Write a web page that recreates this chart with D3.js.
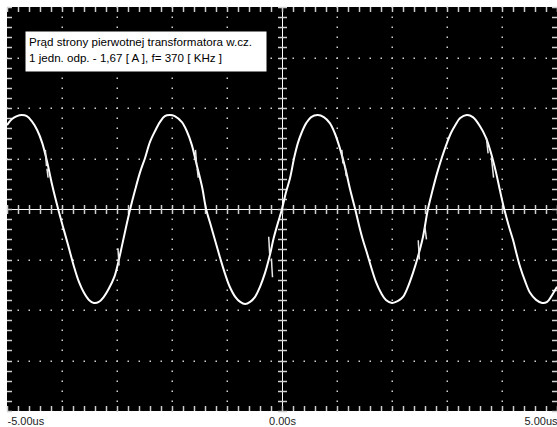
<!DOCTYPE html>
<html>
<head>
<meta charset="utf-8">
<script src="https://cdn.jsdelivr.net/npm/d3@7"></script>
<style>
  html, body { margin: 0; padding: 0; background: #fff; }
  svg { display: block; }
</style>
</head>
<body>
<svg id="chart" width="557" height="427"></svg>
<script>
// ---- data (time in microseconds, value in screen divisions) ----
const timeTicks = [-5, 0, 5];
const timeTickLabels = ["-5.00us", "0.00s", "5.00us"];
const titleLines = [
  "Prąd strony pierwotnej transformatora w.cz.",
  "1 jedn. odp. - 1,67 [ A ], f= 370 [ KHz ]"
];
const traceT = [
  -5.00,-4.91,-4.82,-4.73,-4.64,-4.55,-4.45,-4.36,-4.27,-4.18,-4.07,-3.98,-3.89,-3.78,-3.69,-3.60,-3.51,-3.42,-3.33,-3.24,
  -3.15,-3.05,-2.98,-2.91,-2.84,-2.76,-2.67,-2.58,-2.49,-2.40,-2.31,-2.22,-2.13,-2.04,-1.95,-1.82,-1.73,-1.64,-1.55,-1.45,
  -1.38,-1.29,-1.22,-1.13,-1.04,-0.95,-0.85,-0.76,-0.67,-0.58,-0.49,-0.40,-0.31,-0.22,-0.15,-0.07,0.00,0.07,0.15,0.22,
  0.29,0.36,0.44,0.53,0.65,0.76,0.87,0.96,1.05,1.15,1.24,1.33,1.40,1.47,1.55,1.62,1.71,1.80,1.89,2.00,
  2.11,2.20,2.29,2.38,2.47,2.56,2.65,2.73,2.82,2.91,3.00,3.07,3.15,3.24,3.36,3.47,3.60,3.71,3.80,3.89,
  3.96,4.04,4.13,4.20,4.27,4.33,4.42,4.51,4.62,4.73,4.82,4.89,5.00
];
const traceV = [
  1.66,1.78,1.84,1.86,1.84,1.74,1.56,1.31,0.93,0.48,0.00,-0.36,-0.71,-1.15,-1.45,-1.66,-1.80,-1.86,-1.84,-1.74,
  -1.58,-1.35,-1.07,-0.73,-0.38,0.00,0.38,0.73,1.01,1.33,1.54,1.72,1.84,1.86,1.84,1.72,1.54,1.27,0.87,0.42,
  0.00,-0.34,-0.61,-0.95,-1.27,-1.54,-1.74,-1.84,-1.88,-1.84,-1.74,-1.54,-1.27,-0.91,-0.57,-0.26,0.00,0.32,0.63,1.01,
  1.31,1.52,1.70,1.82,1.86,1.82,1.70,1.50,1.21,0.81,0.38,0.00,-0.32,-0.61,-0.89,-1.15,-1.45,-1.66,-1.80,-1.86,
  -1.82,-1.74,-1.54,-1.27,-0.95,-0.57,-0.02,0.34,0.71,1.03,1.31,1.50,1.66,1.80,1.86,1.82,1.64,1.41,1.11,0.73,
  0.38,0.00,-0.36,-0.61,-0.91,-1.15,-1.43,-1.66,-1.80,-1.86,-1.84,-1.74,-1.54
];
// small jitter segments seen on the edges: [t0, v0, t1, v1]
const glitches = [
  [-4.33, 1.17, -4.31, 0.85], [-4.30, 0.80, -4.28, 0.62],
  [-3.01, -0.78, -2.99, -1.12],
  [-1.60, 1.17, -1.58, 0.88], [-1.57, 0.80, -1.55, 0.62],
  [-0.27, -0.55, -0.25, -0.90], [-0.22, -0.98, -0.20, -1.35],
  [1.06, 1.17, 1.08, 0.90], [1.12, 0.85, 1.14, 0.65],
  [2.45, -0.62, 2.47, -1.00], [2.57, -0.35, 2.60, -0.60],
  [3.69, 1.40, 3.72, 1.10], [3.78, 1.02, 3.82, 0.62]
];

// ---- layout ----
const pLeft = 7, pRight = 557, pTop = 7, pBottom = 411;
const x = d3.scaleLinear().domain([-5, 5]).range([pLeft, pRight]);
const y = d3.scaleLinear().domain([-4, 4]).range([pBottom, pTop]);
const svg = d3.select("#chart");

svg.append("rect").attr("x", pLeft).attr("y", pTop)
  .attr("width", pRight - pLeft).attr("height", pBottom - pTop).attr("fill", "#000");

const g = svg.append("g");
const minorX = d3.range(-5, 5.0001, 0.2);
const minorY = d3.range(-4, 4.0001, 0.2);
const majorX = d3.range(-4, 5, 1);
const majorY = d3.range(-3, 4, 1);

// dotted grid
majorY.forEach(v => {
  if (v === 0) return;
  minorX.forEach(t => {
    g.append("rect").attr("x", Math.round(x(t)) - 0.5).attr("y", Math.round(y(v)) - 0.5)
      .attr("width", 1.5).attr("height", 1.5).attr("fill", "#d0d0d0");
  });
});
majorX.forEach(t => {
  if (t === 0) return;
  minorY.forEach(v => {
    g.append("rect").attr("x", Math.round(x(t)) - 0.5).attr("y", Math.round(y(v)) - 0.5)
      .attr("width", 1.5).attr("height", 1.5).attr("fill", "#d0d0d0");
  });
});

// centre axes
g.append("line").attr("x1", pLeft).attr("x2", pRight).attr("y1", Math.round(y(0)) + 0.5).attr("y2", Math.round(y(0)) + 0.5)
  .attr("stroke", "#fff").attr("stroke-width", 1);
g.append("line").attr("y1", pTop).attr("y2", pBottom).attr("x1", Math.round(x(0)) + 0.5).attr("x2", Math.round(x(0)) + 0.5)
  .attr("stroke", "#fff").attr("stroke-width", 1);

const tickCol = "#cfcfcf";
minorX.forEach(t => {
  const px = Math.round(x(t)) + 0.5;
  g.append("line").attr("x1", px).attr("x2", px).attr("y1", y(0) - 4).attr("y2", y(0) + 5).attr("stroke", tickCol).attr("stroke-width", 1.5);
  g.append("line").attr("x1", px).attr("x2", px).attr("y1", pTop).attr("y2", pTop + 5).attr("stroke", tickCol).attr("stroke-width", 1.5);
  g.append("line").attr("x1", px).attr("x2", px).attr("y1", pBottom - 5).attr("y2", pBottom).attr("stroke", tickCol).attr("stroke-width", 1.5);
});
minorY.forEach(v => {
  const py = Math.round(y(v)) + 0.5;
  g.append("line").attr("y1", py).attr("y2", py).attr("x1", x(0) - 4).attr("x2", x(0) + 5).attr("stroke", tickCol).attr("stroke-width", 1.5);
  g.append("line").attr("y1", py).attr("y2", py).attr("x1", pLeft).attr("x2", pLeft + 5).attr("stroke", tickCol).attr("stroke-width", 1.5);
  g.append("line").attr("y1", py).attr("y2", py).attr("x1", pRight - 5).attr("x2", pRight).attr("stroke", tickCol).attr("stroke-width", 1.5);
});

// trace
const pts = traceT.map((t, i) => [t, traceV[i]]);
const line = d3.line().x(d => x(d[0])).y(d => y(d[1])).curve(d3.curveCatmullRom);
svg.append("path").datum(pts).attr("d", line)
  .attr("fill", "none").attr("stroke", "#fff").attr("stroke-width", 2).attr("stroke-linejoin", "round");
svg.append("g").selectAll("line").data(glitches).join("line")
  .attr("x1", d => x(d[0]) + 1.5).attr("y1", d => y(d[1]))
  .attr("x2", d => x(d[2]) + 1.5).attr("y2", d => y(d[3]))
  .attr("stroke", "#e8e8e8").attr("stroke-width", 1.5);

// title box
const box = svg.append("g");
box.append("rect").attr("x", 25.5).attr("y", 31.5).attr("width", 241).attr("height", 40)
  .attr("fill", "#fff");
box.selectAll("text").data(titleLines).join("text")
  .attr("x", 29).attr("y", (d, i) => 46 + i * 15.5)
  .attr("font-family", "Liberation Sans, Arial, sans-serif").attr("font-size", 11.6)
  .attr("fill", "#000").text(d => d);

// time axis labels
const axis = d3.axisBottom(x).tickValues(timeTicks).tickSize(0)
  .tickFormat((d, i) => timeTickLabels[i]);
const ax = svg.append("g").attr("transform", `translate(0,${pBottom})`).call(axis);
ax.select(".domain").remove();
ax.selectAll("text").attr("font-family", "Liberation Sans, Arial, sans-serif").attr("font-size", 11)
  .attr("fill", "#222").attr("dy", null).attr("y", 14)
  .attr("text-anchor", (d, i) => i === 0 ? "start" : (i === timeTicks.length - 1 ? "end" : "middle"));
</script>
</body>
</html>
